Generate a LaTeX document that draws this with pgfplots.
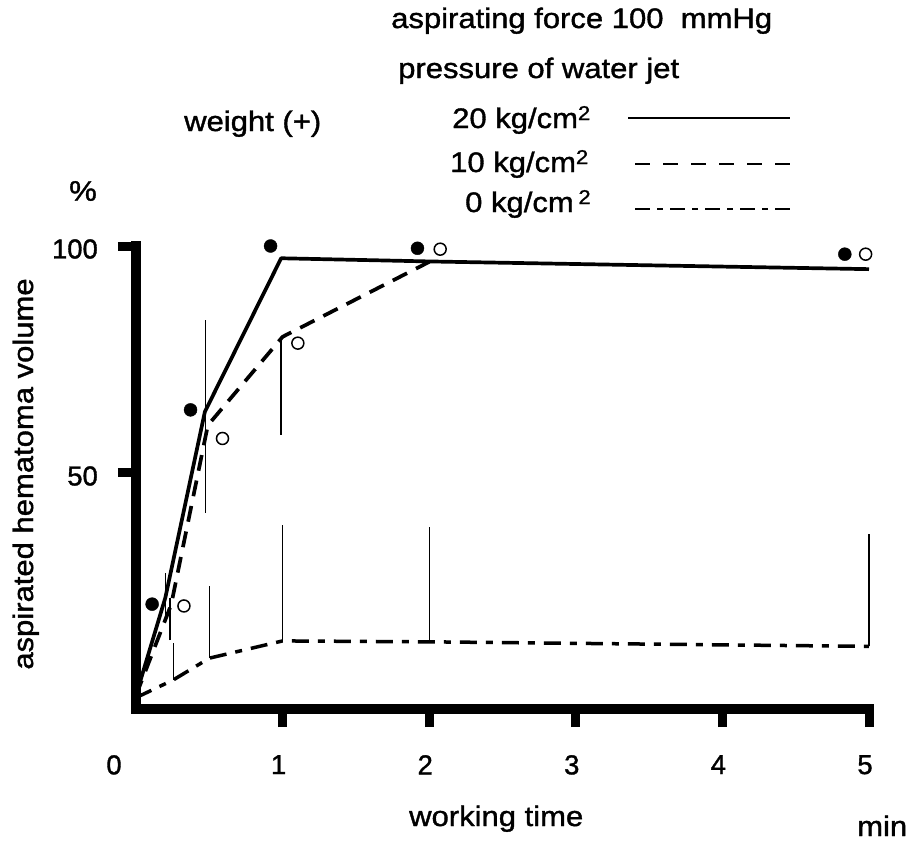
\documentclass[border=0pt]{standalone}
\usepackage{fontspec}
\setmainfont{Liberation Sans}[FakeStretch=1.1, FakeBold=1.3]
\newfontfamily\tickfont{Liberation Sans}[FakeBold=1.3]
\usepackage{pgfplots}
\pgfplotsset{compat=1.18}
\newcommand{\sq}{\raisebox{8bp}{\fontsize{20}{22}\selectfont 2}}
\begin{document}
\begin{tikzpicture}
\path[use as bounding box] (0,0) rectangle (908bp,-843bp);
\begin{axis}[
  at={(136bp,-709bp)}, anchor=south west,
  scale only axis, width=733bp, height=463bp,
  xmin=0, xmax=5, ymin=-2, ymax=100,
  clip=false,
  axis line style={draw=none},
  xtick pos=bottom, ytick pos=left,
  xtick={1,2,3,4,5}, ytick={50,100},
  extra x ticks={0},
  extra x tick style={major tick style={draw=none}, xticklabel style={xshift=-18bp}},
  tick align=outside, major tick length=18bp,
  major tick style={line width=9bp, black},
  /pgf/number format/assume math mode=true,
  xticklabel style={font=\tickfont\fontsize{27.5}{32}\selectfont, inner sep=0bp, xshift=-4bp, yshift=-28bp},
  yticklabel style={font=\tickfont\fontsize{27.5}{32}\selectfont, inner sep=0bp, xshift=-20bp, yshift=-3bp},
]
% axis frame
\draw[line width=10bp, line cap=rect, line join=miter] (rel axis cs:0,1) -- (rel axis cs:0,0) -- (rel axis cs:1,0);
% 20 kg/cm2 solid
\addplot[black, line width=3.7bp, line join=round] coordinates {(0,1) (0.2,22.5) (0.47,63.5) (0.99,97.3) (2,96.6) (5,94.9)};
% 10 kg/cm2 dashed
\addplot[black, line width=3.7bp, dash pattern=on 16bp off 10bp] coordinates {(0,1) (0.24,21) (0.49,60.5) (1.0,80) (2,96.5)};
% 0 kg/cm2 dash-dot
\addplot[black, line width=3.5bp, dash pattern=on 17bp off 9bp on 7bp off 9bp] coordinates {(0,0.5) (0.254,4.4) (0.5,9.2) (1,13) (2,12.8) (5,11.8)};
% error bars
\addplot[black, line width=1.3bp] coordinates {(0.201,17) (0.201,28)};
\addplot[black, line width=1.3bp] coordinates {(0.231,13.2) (0.231,22.5)};
\addplot[black, line width=1.3bp] coordinates {(0.254,4.4) (0.254,12.6)};
\addplot[black, line width=1.3bp] coordinates {(0.475,41.2) (0.475,83.7)};
\addplot[black, line width=1.3bp] coordinates {(0.5,9.2) (0.5,25)};
\addplot[black, line width=1.3bp] coordinates {(0.99,58.4) (0.99,79.5)};
\addplot[black, line width=1.3bp] coordinates {(1.0,13) (1.0,38.5)};
\addplot[black, line width=1.3bp] coordinates {(2.0,12.8) (2.0,38.2)};
\addplot[black, line width=1.3bp] coordinates {(5.0,11.8) (5.0,36.6)};
% markers
\addplot[only marks, mark=*, mark size=6.5bp, black] coordinates {(0.11,21.1) (0.372,63.9) (0.918,100) (1.92,99.5) (4.835,98.2)};
\addplot[only marks, mark=*, mark size=6bp, mark options={draw=black, fill=white, line width=1.5bp}] coordinates {(0.327,20.7) (0.59,57.6) (1.104,78.6) (2.075,99.3) (4.977,98.2)};
\end{axis}
\begin{scope}[every node/.style={inner sep=0bp, font=\fontsize{28.3}{34}\selectfont}]
\node[anchor=base west] at (391bp,-28bp) {aspirating force 100\ \ mmHg};
\node[anchor=base west] at (398bp,-78bp) {pressure of water jet};
\node[anchor=base west] at (184bp,-131bp) {weight (+)};
\node[anchor=base west] at (452bp,-128bp) {20 kg/cm\sq};
\node[anchor=base west] at (450bp,-172bp) {10 kg/cm\sq};
\node[anchor=base west] at (465bp,-212bp) {0 kg/cm\,\sq};
\node[anchor=center] at (83bp,-191bp) {\%};
\node[rotate=90, anchor=base] at (33bp,-474bp) {aspirated hematoma volume};
\node[anchor=base west] at (409bp,-826bp) {working time};
\node[anchor=base west] at (857bp,-836bp) {min};
\end{scope}
\draw[line width=2.5bp] (628bp,-118bp) -- (790bp,-118bp);
\draw[line width=2.5bp, dash pattern=on 15bp off 13bp] (635bp,-164bp) -- (790bp,-164bp);
\draw[line width=2.5bp, dash pattern=on 15bp off 7bp on 6bp off 7bp] (635bp,-209bp) -- (790bp,-209bp);
\end{tikzpicture}
\end{document}
